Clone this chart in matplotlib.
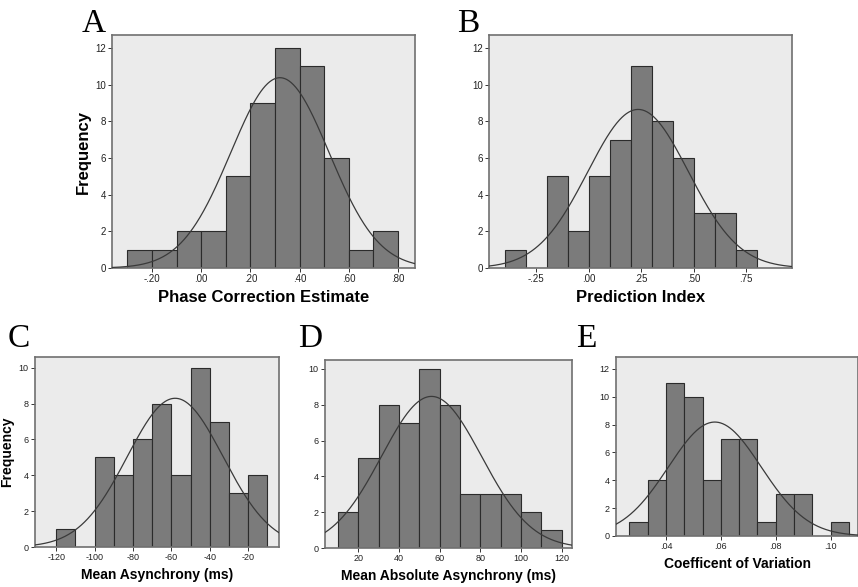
import numpy as np
import matplotlib
matplotlib.use("Agg")
import matplotlib.pyplot as plt
from matplotlib.ticker import FuncFormatter

# counts per bin (N = 52 in every panel)
phase_counts = [1, 1, 2, 2, 5, 9, 12, 11, 6, 1, 2]
phase_start, phase_width = -0.30, 0.10
phase_mean, phase_sd = 0.32, 0.20

pred_counts = [1, 0, 5, 2, 5, 7, 11, 8, 6, 3, 3, 1]
pred_start, pred_width = -0.40, 0.10
pred_mean, pred_sd = 0.236, 0.24

asyn_counts = [1, 0, 5, 4, 6, 8, 4, 10, 7, 3, 4]
asyn_start, asyn_width = -120, 10
asyn_mean, asyn_sd = -58, 25.0

abs_counts = [2, 5, 8, 7, 10, 8, 3, 3, 3, 2, 1]
abs_start, abs_width = 10, 10
abs_mean, abs_sd = 56, 24.5

cv_counts = [1, 4, 11, 10, 4, 7, 7, 1, 3, 3, 0, 1]
cv_start, cv_width = 0.02667, 0.006667
cv_mean, cv_sd = 0.0578, 0.0169


def dec_fmt(v, pos):
    """SPSS style decimals: .20, -.20, .00"""
    s = "%.2f" % v
    return s.replace("0.", ".", 1)


def int_fmt(v, pos):
    return "%d" % round(v)


def draw_hist(rect, counts, start, width, mean, sd, xlim, ylim, xticks, yticks,
              fmt, xlabel, ylabel, letter, letter_xy, lab_size, tick_size):
    ax = fig.add_axes(rect)
    ax.set_facecolor("#ebebeb")
    counts = np.array(counts)
    edges = start + width * np.arange(len(counts))
    ax.bar(edges, counts, width=width, align="edge", color="#7b7b7b",
           edgecolor="#2b2b2b", linewidth=0.8, zorder=2)

    # normal curve scaled to the histogram
    n = counts.sum()
    xs = np.linspace(xlim[0], xlim[1], 400)
    ys = n * width / (sd * np.sqrt(2 * np.pi)) * np.exp(-0.5 * ((xs - mean) / sd) ** 2)
    ax.plot(xs, ys, color="#3a3a3a", linewidth=0.9, zorder=3)

    ax.set_xlim(xlim)
    ax.set_ylim(ylim)
    ax.set_xticks(xticks)
    ax.set_yticks(yticks)
    ax.xaxis.set_major_formatter(FuncFormatter(fmt))
    ax.tick_params(direction="out", length=3, width=0.7, color="#333333",
                   labelsize=tick_size, pad=1.5, labelcolor="#222222")
    for sp in ax.spines.values():
        sp.set_color("#707070")
        sp.set_linewidth(1.2)
    ax.set_xlabel(xlabel, fontsize=lab_size, fontweight="bold",
                  family="Liberation Sans", labelpad=4)
    if ylabel:
        ax.set_ylabel(ylabel, fontsize=lab_size, fontweight="bold",
                      family="Liberation Sans", labelpad=3)
    fig.text(letter_xy[0], letter_xy[1], letter, fontsize=24,
             family="Liberation Serif", ha="center", va="baseline")
    return ax


plt.rcParams["font.family"] = ["Liberation Sans", "DejaVu Sans"]
fig = plt.figure(figsize=(8.58, 5.87), dpi=100)

draw_hist([0.1305, 0.5434, 0.3531, 0.397], phase_counts, phase_start, phase_width,
          phase_mean, phase_sd, (-0.363, 0.869), (0, 12.7),
          [-0.2, 0.0, 0.2, 0.4, 0.6, 0.8], range(0, 13, 2), dec_fmt,
          "Phase Correction Estimate", "Frequency", "A", (0.109, 0.945), 12, 7)

draw_hist([0.570, 0.5434, 0.3531, 0.397], pred_counts, pred_start, pred_width,
          pred_mean, pred_sd, (-0.474, 0.969), (0, 12.7),
          [-0.25, 0.0, 0.25, 0.5, 0.75], range(0, 13, 2), dec_fmt,
          "Prediction Index", None, "B", (0.546, 0.945), 12, 7)

draw_hist([0.0408, 0.0681, 0.2844, 0.3237], asyn_counts, asyn_start, asyn_width,
          asyn_mean, asyn_sd, (-131, -3.9), (0, 10.6),
          range(-120, -19, 20), range(0, 11, 2), int_fmt,
          "Mean Asynchrony (ms)", "Frequency", "C", (0.0216, 0.409), 10, 6.5)

draw_hist([0.3788, 0.0664, 0.2879, 0.3203], abs_counts, abs_start, abs_width,
          abs_mean, abs_sd, (3.7, 125), (0, 10.5),
          range(20, 121, 20), range(0, 11, 2), int_fmt,
          "Mean Absolute Asynchrony (ms)", None, "D", (0.361, 0.409), 10, 6.5)

draw_hist([0.718, 0.0869, 0.282, 0.305], cv_counts, cv_start, cv_width,
          cv_mean, cv_sd, (0.0218, 0.110), (0, 12.86),
          [0.04, 0.06, 0.08, 0.10], range(0, 13, 2), dec_fmt,
          "Coefficent of Variation", None, "E", (0.6836, 0.409), 10, 6.5)

fig.savefig("out.png", dpi=100, facecolor="white")
